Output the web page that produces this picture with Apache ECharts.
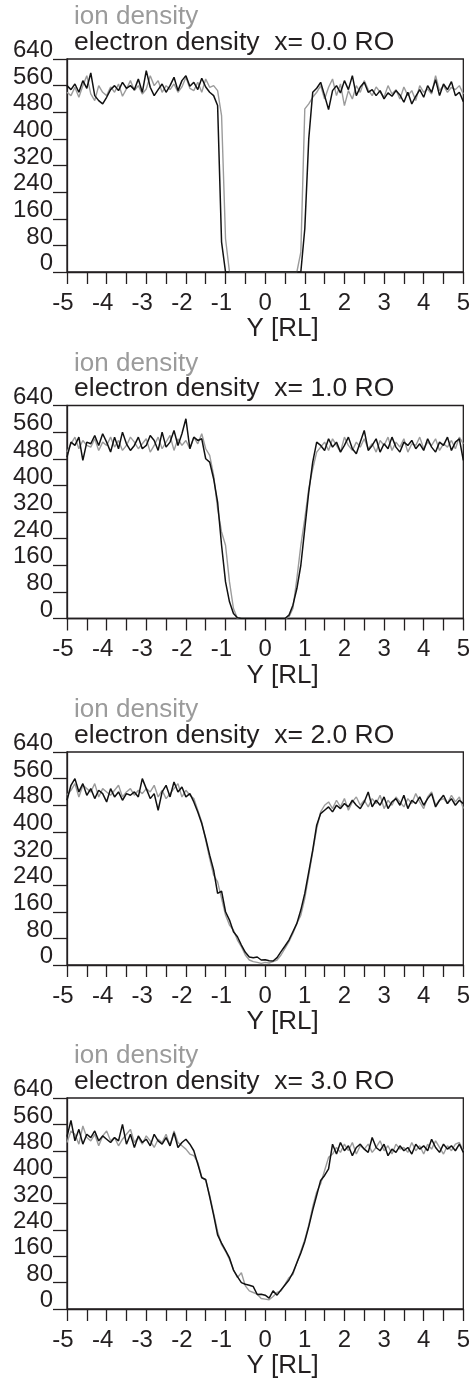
<!DOCTYPE html>
<html>
<head>
<meta charset="utf-8">
<script src="https://cdn.jsdelivr.net/npm/echarts@6/dist/echarts.min.js"></script>
<style>
  html, body { margin: 0; padding: 0; background: #fff; }
  #chart-container { width: 473px; height: 1380px; }
</style>
</head>
<body>
<div id="chart-container"></div>
<script>
// sample positions along Y [RL]
var yRL = [-5,-4.9,-4.8,-4.7,-4.6,-4.5,-4.4,-4.3,-4.2,-4.1,-4,-3.9,-3.8,-3.7,-3.6,-3.5,-3.4,-3.3,-3.2,-3.1,
  -3,-2.9,-2.8,-2.7,-2.6,-2.5,-2.4,-2.3,-2.2,-2.1,-2,-1.9,-1.8,-1.7,-1.6,-1.5,-1.4,-1.3,-1.2,-1.1,
  -1,-0.9,-0.8,-0.7,-0.6,-0.5,-0.4,-0.3,-0.2,-0.1,0,0.1,0.2,0.3,0.4,0.5,0.6,0.7,0.8,0.9,
  1,1.1,1.2,1.3,1.4,1.5,1.6,1.7,1.8,1.9,2,2.1,2.2,2.3,2.4,2.5,2.6,2.7,2.8,2.9,
  3,3.1,3.2,3.3,3.4,3.5,3.6,3.7,3.8,3.9,4,4.1,4.2,4.3,4.4,4.5,4.6,4.7,4.8,4.9,5];

var panelLabels = ['x= 0.0 RO', 'x= 1.0 RO', 'x= 2.0 RO', 'x= 3.0 RO'];
var xTicks = [-5, -4, -3, -2, -1, 0, 1, 2, 3, 4, 5];
var densTicks = [0, 80, 160, 240, 320, 400, 480, 560, 640];

// x = 0.0 RO
var electron0 = [560,548,565,540,575,552,598,530,515,505,525,548,560,545,570,552,560,548,580,540,
  605,555,530,548,565,540,560,585,545,575,590,558,570,548,582,556,540,530,
  500,90,0,0,0,0,0,0,0,0,0,0,0,0,0,0,0,0,0,0,0,0,130,400,540,
  552,570,530,488,545,560,538,575,548,590,530,556,570,540,548,530,545,520,538,528,
  545,532,510,540,505,528,548,525,560,540,578,530,565,548,572,530,540,512];
var ion0 = [540,530,555,525,560,590,535,515,560,540,530,556,540,565,528,550,575,545,560,535,
  550,590,560,575,540,560,548,565,540,556,585,552,545,570,540,580,555,560,
  545,470,100,0,0,0,0,0,0,0,0,0,0,0,0,0,0,0,0,0,0,60,490,505,525,
  540,560,520,555,580,530,565,500,545,520,560,540,575,548,530,556,540,525,560,535,
  548,520,556,530,545,515,560,540,550,535,590,545,560,540,555,548,560,535];

// x = 1.0 RO
var electron1 = [485,530,520,545,475,530,525,550,520,555,530,500,545,510,560,525,505,520,545,510,
  520,550,535,505,560,515,530,565,520,555,600,510,545,535,540,
  480,470,420,350,220,110,50,15,2,0,0,0,0,0,0,0,0,0,0,0,0,
  10,40,90,160,270,380,470,530,
  520,505,540,515,530,500,520,545,510,495,530,565,505,520,540,500,525,510,545,515,
  500,530,520,535,510,525,505,540,515,500,530,520,545,505,530,540,475];
var ion1 = [500,525,545,510,535,520,515,540,505,530,520,545,515,535,505,520,545,530,510,525,
  540,500,520,545,510,530,550,505,540,520,535,510,545,525,555,
  510,490,430,330,260,220,110,30,0,0,0,0,0,0,0,0,0,0,0,0,0,
  5,30,120,220,300,390,450,500,
  515,530,505,540,520,500,545,520,505,530,515,540,510,525,500,535,520,545,505,530,
  515,540,500,525,520,545,510,530,520,540,505,525,515,535,510,545,525];

// x = 2.0 RO
var electron2 = [495,540,560,520,545,510,530,500,525,515,490,530,505,520,495,515,510,520,505,560,
  530,500,515,465,520,540,505,550,520,535,505,515,
  490,460,425,380,330,285,215,222,160,135,100,85,60,38,24,22,24,15,16,13,
  12,22,40,57,75,100,125,165,215,280,345,420,455,
  465,475,460,480,470,485,475,495,480,470,490,520,475,495,480,505,470,490,500,480,
  510,470,495,485,505,480,500,515,475,495,510,485,500,480,495,485];
var ion2 = [510,525,545,505,540,530,520,545,505,530,520,510,525,540,505,520,530,510,525,515,
  530,520,540,505,525,500,515,530,545,505,525,510,
  500,465,430,375,320,270,250,200,150,120,105,75,55,30,15,10,8,5,8,6,
  10,15,30,50,70,95,125,150,200,270,340,410,460,
  480,490,470,495,475,500,465,490,505,480,495,475,500,485,510,470,495,480,505,490,
  475,500,485,515,490,470,505,520,480,495,500,485,510,490,505,470];

// x = 3.0 RO
var electron3 = [523,572,510,545,500,530,520,540,510,525,515,505,520,510,560,500,530,490,525,505,
  515,495,530,510,500,520,495,535,490,505,515,
  500,480,440,398,393,340,285,225,200,178,155,118,98,80,75,72,68,44,45,42,
  33,55,42,58,73,88,110,140,170,205,250,300,345,390,405,425,500,
  470,505,480,495,465,490,500,485,475,520,490,480,500,465,485,475,495,480,490,470,
  500,485,495,480,515,490,475,500,485,495,480,500,475];
var ion3 = [505,540,530,500,555,520,510,530,495,525,540,510,520,495,515,530,545,505,520,500,
  525,510,490,515,505,530,495,540,505,495,485,
  470,465,445,400,390,345,290,235,195,175,150,120,95,110,70,55,50,45,32,30,
  28,38,50,55,75,95,105,140,175,210,255,310,355,380,420,460,470,
  490,475,500,480,505,470,495,485,500,475,490,510,480,495,470,500,485,490,475,505,
  480,495,470,500,485,510,490,470,495,480,500,505,480];

var electronSets = [electron0, electron1, electron2, electron3];
var ionSets = [ion0, ion1, ion2, ion3];

var ink = '#231f20';
var grey = '#9b9b9b';
var font = '"Liberation Sans", Arial, Helvetica, sans-serif';
var plotTops = [59, 405.5, 752, 1098];

function pairs(vals) {
  return yRL.map(function (x, i) { return [x, vals[i]]; });
}

var dom = document.getElementById('chart-container');
var myChart = echarts.init(dom, null, { renderer: 'canvas' });

var option = {
  animation: false,
  backgroundColor: '#ffffff',
  title: [],
  grid: [],
  xAxis: [],
  yAxis: [],
  series: []
};

plotTops.forEach(function (top, k) {
  option.title.push({
    text: 'ion density',
    left: 74, top: top - 55, padding: 0,
    textStyle: { color: grey, fontSize: 26, fontWeight: 'normal', fontFamily: font, lineHeight: 26 }
  });
  option.title.push({
    text: 'electron density  ' + panelLabels[k],
    left: 74, top: top - 29.5, padding: 0,
    textStyle: { color: ink, fontSize: 26.5, fontWeight: 'normal', fontFamily: font, lineHeight: 26 }
  });
  option.grid.push({
    left: 67, top: top, width: 399, height: 213,
    show: true, borderColor: ink, borderWidth: 1.3, backgroundColor: 'transparent'
  });
  option.xAxis.push({
    type: 'value', gridIndex: k,
    min: -5, max: 5, interval: 0.5,
    name: 'Y [RL]', nameLocation: 'middle', nameGap: 44,
    nameTextStyle: { color: ink, fontSize: 26, fontFamily: font, lineHeight: 26, padding: [0, 0, 0, 35] },
    axisLine: { show: true, onZero: false, lineStyle: { color: ink, width: 1.3 } },
    axisTick: { show: true, inside: false, length: 12, lineStyle: { color: ink, width: 1.3 } },
    splitLine: { show: false },
    axisLabel: {
      margin: 19, color: ink, fontSize: 24, fontFamily: font, lineHeight: 24,
      formatter: function (v) {
        if (xTicks.indexOf(v) < 0) return '';
        return v < 0 ? '{neg|' + v + '}' : '{pos|' + v + '}';
      },
      rich: {
        neg: { color: ink, fontSize: 24, fontFamily: font, lineHeight: 24, padding: [0, 8, 0, 0] },
        pos: { color: ink, fontSize: 24, fontFamily: font, lineHeight: 24 }
      }
    }
  });
  option.yAxis.push({
    type: 'value', gridIndex: k,
    min: 0, max: 640, interval: 80,
    axisLine: { show: true, onZero: false, lineStyle: { color: ink, width: 1.3 } },
    axisTick: { show: true, inside: false, length: 14, lineStyle: { color: ink, width: 1.3 } },
    splitLine: { show: false },
    axisLabel: {
      margin: 14, color: ink, fontSize: 24, fontFamily: font, lineHeight: 17,
      verticalAlign: 'bottom',
      formatter: function (v) { return densTicks.indexOf(v) >= 0 ? String(v) : ''; }
    }
  });
  option.series.push({
    name: 'ion density', type: 'line', xAxisIndex: k, yAxisIndex: k,
    data: pairs(ionSets[k]), showSymbol: false, symbol: 'none',
    lineStyle: { color: grey, width: 1.4 }, z: 2
  });
  option.series.push({
    name: 'electron density', type: 'line', xAxisIndex: k, yAxisIndex: k,
    data: pairs(electronSets[k]), showSymbol: false, symbol: 'none',
    lineStyle: { color: '#111111', width: 1.5 }, z: 3
  });
});

if (option && typeof option === 'object') {
  myChart.setOption(option);
}

window.addEventListener('resize', myChart.resize);
</script>
</body>
</html>
